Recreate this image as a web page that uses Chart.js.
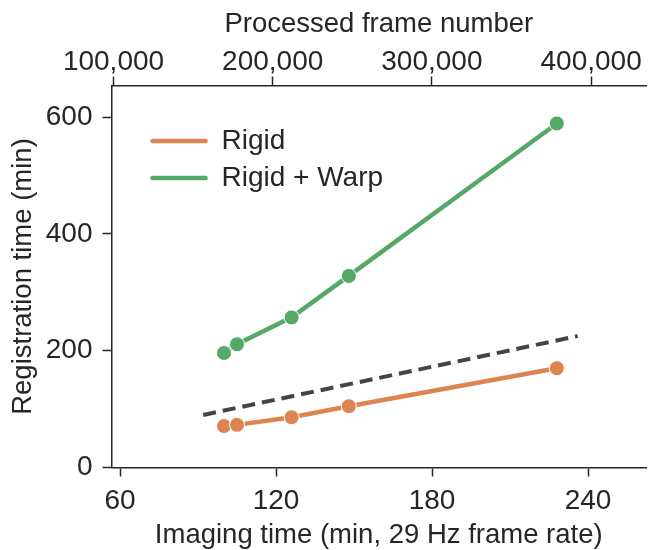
<!DOCTYPE html>
<html>
<head>
<meta charset="utf-8">
<script src="https://cdn.jsdelivr.net/npm/chart.js@4"></script>
<style>
  html, body { margin: 0; padding: 0; background: #fff; }
</style>
</head>
<body>
<canvas id="chart" width="648" height="550"></canvas>
<script>
// imaging time (min) of each run, and registration time (min) per method
const imagingMin = [100, 105, 126, 148, 228];
const rigidTime = [71, 73, 86, 105, 170];
const warpTime = [196, 211, 257, 328, 589];
// dashed reference line
const refMin = [92, 236];
const refTime = [90, 225];
const seriesLabels = ['Rigid', 'Rigid + Warp'];
const xTicks = [60, 120, 180, 240];
const frameTicks = [100000, 200000, 300000, 400000];
const yTicks = [0, 200, 400, 600];

const ink = '#262626';
const family = '"Liberation Sans", Arial, sans-serif';
const pts = (xs, ys) => xs.map((x, i) => ({ x: x, y: ys[i] }));
const fixTicks = vals => scale => { scale.ticks = vals.map(v => ({ value: v })); };

// legend drawn inside the plot, top-left, lines only
const legendInside = {
    id: 'legendInside',
    afterDatasetsDraw(chart) {
        const ctx = chart.ctx;
        const { left, top } = chart.chartArea;
        chart.data.datasets.filter(ds => ds.label).forEach((ds, i) => {
            const y = top + 55.5 + i * 37;
            ctx.save();
            ctx.strokeStyle = ds.borderColor;
            ctx.lineWidth = 4.5;
            ctx.lineCap = 'round';
            ctx.beginPath();
            ctx.moveTo(left + 41, y);
            ctx.lineTo(left + 94, y);
            ctx.stroke();
            ctx.fillStyle = ink;
            ctx.font = '28px ' + family;
            ctx.textBaseline = 'middle';
            ctx.fillText(ds.label, left + 110, y);
            ctx.restore();
        });
    }
};

const axisCommon = {
    grid: { drawOnChartArea: false, tickLength: 9, tickColor: ink, tickWidth: 1.5 },
    border: { color: ink, width: 1.5 }
};

new Chart(document.getElementById('chart'), {
    type: 'line',
    data: {
        datasets: [
            {
                label: '',
                data: pts(refMin, refTime),
                borderColor: '#444444',
                borderWidth: 4,
                borderDash: [13, 7],
                pointRadius: 0
            },
            {
                label: seriesLabels[0],
                data: pts(imagingMin, rigidTime),
                borderColor: '#dd8452',
                backgroundColor: '#dd8452',
                borderWidth: 4.5,
                pointRadius: 7.5,
                pointBorderColor: '#ffffff',
                pointBorderWidth: 1,
                pointBackgroundColor: '#dd8452'
            },
            {
                label: seriesLabels[1],
                data: pts(imagingMin, warpTime),
                borderColor: '#55a868',
                backgroundColor: '#55a868',
                borderWidth: 4.5,
                pointRadius: 7.5,
                pointBorderColor: '#ffffff',
                pointBorderWidth: 1,
                pointBackgroundColor: '#55a868'
            }
        ]
    },
    options: {
        responsive: false,
        animation: false,
        layout: { autoPadding: false, padding: { left: 0, right: 2, top: 0, bottom: 0 } },
        plugins: { legend: { display: false }, tooltip: { enabled: false } },
        scales: {
            x: {
                type: 'linear', position: 'bottom', min: 56.73, max: 262.3,
                afterBuildTicks: fixTicks(xTicks),
                afterFit: s => { s.height = 82.5; },
                ...axisCommon,
                ticks: { color: ink, font: { size: 28, family: family }, padding: 8, maxRotation: 0 },
                title: { display: true, text: 'Imaging time (min, 29 Hz frame rate)', color: ink,
                         font: { size: 27.5, family: family }, padding: { top: 0, bottom: -1.5 } }
            },
            x2: {
                type: 'linear', position: 'top', min: 98744, max: 434485,
                afterBuildTicks: fixTicks(frameTicks),
                afterFit: s => { s.height = 85.5; },
                ...axisCommon,
                ticks: { color: ink, font: { size: 28, family: family }, padding: -3, maxRotation: 0,
                         callback: v => v.toLocaleString('en-US') },
                title: { display: true, text: 'Processed frame number', color: ink,
                         font: { size: 27.5, family: family }, padding: { top: 7.5, bottom: 0 } }
            },
            y: {
                type: 'linear', min: 0, max: 654,
                afterBuildTicks: fixTicks(yTicks),
                afterFit: s => { s.width = 111.5; },
                ...axisCommon,
                ticks: { color: ink, font: { size: 28, family: family }, padding: 10 },
                title: { display: true, text: 'Registration time (min)', color: ink,
                         font: { size: 27.5, family: family }, padding: { top: 6.5, bottom: 0 } }
            }
        }
    },
    plugins: [legendInside]
});
</script>
</body>
</html>
